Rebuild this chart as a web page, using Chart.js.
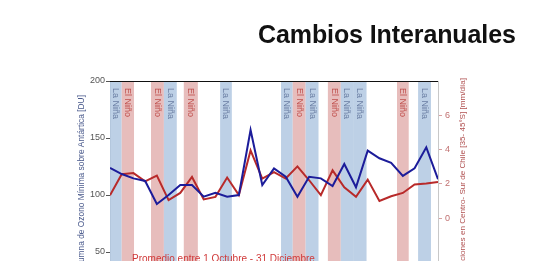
<!DOCTYPE html>
<html><head><meta charset="utf-8">
<script src="https://cdn.jsdelivr.net/npm/chart.js@4"></script>
<style>
html,body{margin:0;padding:0;background:#fff;overflow:hidden;width:533px;height:261px;position:relative}
canvas{position:absolute;left:0;top:0}
#t{position:absolute;left:258px;top:22px;font:bold 25px "Liberation Sans",Arial,sans-serif;letter-spacing:-0.1px;color:#111;line-height:25px;white-space:nowrap}
#n{position:absolute;left:132px;top:254px;font:10px "Liberation Sans",Arial,sans-serif;color:#d03a3a;white-space:nowrap;line-height:10px}
</style></head><body>
<canvas id="c" width="533" height="340"></canvas>
<div id="t">Cambios Interanuales</div>
<div id="n">Promedio entre 1 Octubre - 31 Diciembre</div>
<script>
const years = [1979,1980,1981,1982,1983,1984,1985,1986,1987,1988,1989,1990,1991,1992,1993,1994,1995,1996,1997,1998,1999,2000,2001,2002,2003,2004,2005,2006,2007];
const ozoneMin = [123.7,118.4,114.6,112.3,92.1,100,108.8,108.8,98.5,102,98.5,100,157,108.8,123.4,116,98.5,116,114.6,107.9,127.2,106.8,138.9,132.2,128.3,116.7,123.4,141.8,113.8];
const precip = [1.34,2.56,2.63,2.15,2.48,1.05,1.47,2.4,1.09,1.24,2.37,1.34,3.95,2.31,2.69,2.31,3.02,2.21,1.34,2.79,1.8,1.24,2.25,1.0,1.28,1.47,1.96,2.02,2.11];
const bandStart = [1979.0,1980.0,1982.5,1983.6,1985.3,1988.4,1993.6,1994.6,1995.7,1997.6,1998.7,1999.75,2003.5,2005.3];
const bandEnd   = [1980.0,1981.05,1983.6,1984.7,1986.5,1989.4,1994.6,1995.7,1996.8,1998.7,1999.75,2000.9,2004.5,2006.4];
const bandType  = ['La Niña','El Niño','El Niño','La Niña','El Niño','La Niña','La Niña','El Niño','La Niña','El Niño','La Niña','La Niña','El Niño','La Niña'];
const leftTicks = [0,50,100,150,200];
const rightTicks = [0,2,4,6];
const leftTitle = 'Columna de Ozono Mínima sobre Antártica [DU]';
const rightTitle = 'Precipitaciones en Centro- Sur de Chile [35- 45°S] [mm/día]';

const bandPlugin = {
  id:'bands',
  beforeDatasetsDraw(chart){
    const {ctx, chartArea:a, scales:{x}} = chart;
    ctx.save();
    for(let i=0;i<bandStart.length;i++){
      const x0 = x.getPixelForValue(bandStart[i]);
      const x1 = x.getPixelForValue(bandEnd[i]);
      const nina = bandType[i]==='La Niña';
      ctx.fillStyle = nina ? 'rgba(185,205,229,0.95)' : 'rgba(230,185,184,0.95)';
      ctx.fillRect(x0, a.top, x1-x0, a.bottom-a.top);
      ctx.save();
      ctx.translate((x0+x1)/2, a.top+7);
      ctx.rotate(Math.PI/2);
      ctx.font = '9px "Liberation Sans", Arial, sans-serif';
      ctx.fillStyle = nina ? '#6a7ea3' : '#c0504d';
      ctx.textAlign='left'; ctx.textBaseline='middle';
      ctx.fillText(bandType[i], 0, 0);
      ctx.restore();
    }
    ctx.restore();
  },
  afterDatasetsDraw(chart){
    const {ctx, chartArea:a} = chart;
    ctx.save();
    ctx.strokeStyle='#111'; ctx.lineWidth=1.2;
    ctx.beginPath(); ctx.moveTo(a.left, a.top+0.5); ctx.lineTo(a.right, a.top+0.5); ctx.stroke();
    ctx.restore();
  },
  afterDraw(chart){
    const {ctx, chartArea:a} = chart;
    const drawTitle = (text, cx, endY, color, size) => {
      ctx.save();
      ctx.translate(cx, endY);
      ctx.rotate(-Math.PI/2);
      ctx.font = size + 'px "Liberation Sans", Arial, sans-serif';
      ctx.fillStyle = color;
      ctx.textAlign = 'right'; ctx.textBaseline = 'middle';
      ctx.fillText(text, 0, 0);
      ctx.restore();
    };
    drawTitle(leftTitle, a.left - 28, a.top + 14, '#4a5a8c', 8.4);
    drawTitle(rightTitle, a.right + 25, a.top - 3, '#b05050', 8.1);
  }
};

new Chart(document.getElementById('c'), {
  type:'line',
  data:{datasets:[
    {label:'Ozono', data: years.map((y,i)=>({x:y,y:ozoneMin[i]})), yAxisID:'y', borderColor:'#1c1c9a', borderWidth:2, pointRadius:0, tension:0, order:1},
    {label:'Precip', data: years.map((y,i)=>({x:y,y:precip[i]})), yAxisID:'y1', borderColor:'#b82a2a', borderWidth:2, pointRadius:0, tension:0, order:2}
  ]},
  options:{
    responsive:false, animation:false,
    layout:{padding:{top:81,left:0,right:0,bottom:31}},
    plugins:{legend:{display:false}, tooltip:{enabled:false}},
    scales:{
      x:{type:'linear', display:false, min:1979, max:2007},
      y:{position:'left', min:0, max:200,
        afterBuildTicks(s){ s.ticks = leftTicks.map(v=>({value:v})); },
        afterFit(s){ s.width = 110; },
        grid:{drawOnChartArea:false, tickLength:4, color:'#555'},
        border:{color:'#555', width:1},
        ticks:{color:'#555', padding:1, font:{family:'"Liberation Sans", Arial, sans-serif', size:9}}
      },
      y1:{position:'right', min:-5.3, max:8,
        afterBuildTicks(s){ s.ticks = rightTicks.map(v=>({value:v})); },
        afterFit(s){ s.width = 95; },
        grid:{drawOnChartArea:false, tickLength:4, color:'#d9a0a0'},
        border:{color:'#c8c8c8', width:1},
        ticks:{color:'#c07070', padding:3, font:{family:'"Liberation Sans", Arial, sans-serif', size:9}}
      }
    }
  },
  plugins:[bandPlugin]
});
</script>
</body></html>
